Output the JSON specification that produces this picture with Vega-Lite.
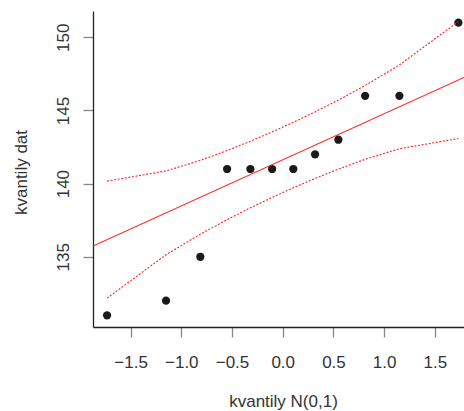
{
  "$schema": "https://vega.github.io/schema/vega-lite/v6.json",
  "autosize": {"type": "none"},
  "padding": {"left": 93, "top": 11, "right": 0, "bottom": 84},
  "width": 371,
  "height": 316,
  "background": "white",
  "config": {
    "view": {"stroke": null},
    "font": "Liberation Sans",
    "axis": {
      "grid": false,
      "domainColor": "#222222",
      "domainWidth": 1.3,
      "tickColor": "#888888",
      "tickWidth": 1.3,
      "tickSize": 10,
      "labelFont": "Liberation Sans",
      "labelFontSize": 17,
      "labelColor": "#333333",
      "titleFont": "Liberation Sans",
      "titleFontSize": 17,
      "titleFontWeight": "normal",
      "titleColor": "#333333"
    }
  },
  "datasets": {
    "pts": [
      {"z": -1.7317, "v": 131},
      {"z": -1.1503, "v": 132},
      {"z": -0.8122, "v": 135},
      {"z": -0.5485, "v": 141},
      {"z": -0.3186, "v": 141},
      {"z": -0.1046, "v": 141},
      {"z": 0.1046, "v": 141},
      {"z": 0.3186, "v": 142},
      {"z": 0.5485, "v": 143},
      {"z": 0.8122, "v": 146},
      {"z": 1.1503, "v": 146},
      {"z": 1.7317, "v": 151}
    ],
    "env": [
      {"z": -1.7317, "upper": 140.17, "lower": 132.17},
      {"z": -1.1503, "upper": 140.865, "lower": 135.139},
      {"z": -0.8122, "upper": 141.59, "lower": 136.544},
      {"z": -0.5485, "upper": 142.257, "lower": 137.537},
      {"z": -0.3186, "upper": 142.896, "lower": 138.346},
      {"z": -0.1046, "upper": 143.534, "lower": 139.058},
      {"z": 0.1046, "upper": 144.192, "lower": 139.716},
      {"z": 0.3186, "upper": 144.904, "lower": 140.354},
      {"z": 0.5485, "upper": 145.713, "lower": 140.993},
      {"z": 0.8122, "upper": 146.706, "lower": 141.66},
      {"z": 1.1503, "upper": 148.111, "lower": 142.385},
      {"z": 1.7317, "upper": 151.079, "lower": 143.081}
    ],
    "fit": [
      {"z": -1.8703, "v": 135.734},
      {"z": 1.787, "v": 147.254}
    ]
  },
  "layer": [
    {
      "data": {"name": "pts"},
      "mark": {"type": "circle", "size": 68, "color": "#1a1a1a", "opacity": 1},
      "encoding": {
        "x": {
          "field": "z", "type": "quantitative",
          "scale": {"domain": [-1.8703, 1.787], "nice": false, "zero": false},
          "axis": {
            "title": "kvantily N(0,1)",
            "values": [-1.5, -1.0, -0.5, 0.0, 0.5, 1.0, 1.5],
            "labelExpr": "replace(format(datum.value, '.1f'), '-', '−')",
            "labelBaseline": "alphabetic",
            "labelPadding": 30,
            "titleBaseline": "alphabetic",
            "titleAnchor": "middle",
            "titleAlign": "center",
            "titleX": 190,
            "titleY": 79
          }
        },
        "y": {
          "field": "v", "type": "quantitative",
          "scale": {"domain": [130.2, 151.8], "nice": false, "zero": false},
          "axis": {
            "title": "kvantily dat",
            "values": [135, 140, 145, 150],
            "labelAngle": -90,
            "labelAlign": "center",
            "labelBaseline": "alphabetic",
            "labelPadding": 14.7,
            "titleAngle": -90,
            "titleBaseline": "alphabetic",
            "titleAlign": "center",
            "titleX": -67,
            "titleY": 161
          }
        }
      }
    },
    {
      "data": {"name": "fit"},
      "mark": {"type": "line", "color": "#ff2020", "strokeWidth": 1.1, "clip": true},
      "encoding": {
        "x": {"field": "z", "type": "quantitative"},
        "y": {"field": "v", "type": "quantitative"}
      }
    },
    {
      "data": {"name": "env"},
      "mark": {"type": "line", "color": "#ff2020", "strokeWidth": 1.1, "strokeDash": [2, 1.6]},
      "encoding": {
        "x": {"field": "z", "type": "quantitative"},
        "y": {"field": "upper", "type": "quantitative"}
      }
    },
    {
      "data": {"name": "env"},
      "mark": {"type": "line", "color": "#ff2020", "strokeWidth": 1.1, "strokeDash": [2, 1.6]},
      "encoding": {
        "x": {"field": "z", "type": "quantitative"},
        "y": {"field": "lower", "type": "quantitative"}
      }
    },
    {
      "mark": {"type": "rule", "color": "#222222", "strokeWidth": 1.3},
      "encoding": {"y": {"datum": 151.8}}
    }
  ]
}
